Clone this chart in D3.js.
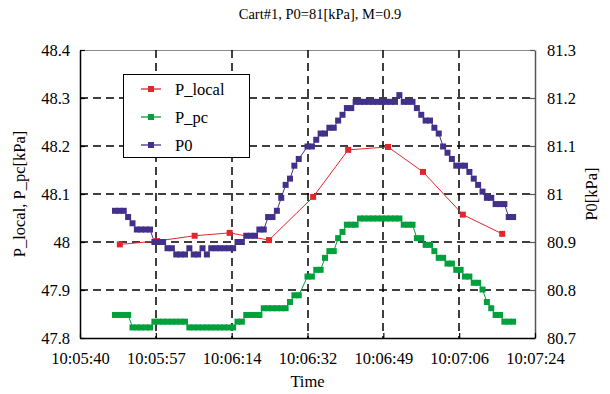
<!DOCTYPE html>
<html>
<head>
<meta charset="utf-8">
<script src="https://cdn.jsdelivr.net/npm/d3@7"></script>
<style>
  html, body { margin: 0; padding: 0; background: #fff; }
  svg { display: block; }
  text { font-family: "Liberation Serif", "Times New Roman", serif; fill: #000; }
</style>
</head>
<body>
<svg id="chart" width="610" height="394"></svg>
<script>
// Seconds elapsed since 10:05:40 for each pressure sample
const sampleSec = [
  8, 9, 10, 11, 12, 13, 14, 15, 16, 17, 18, 19, 20, 21, 22, 23, 24, 25, 26, 27,
  28, 29, 30, 31, 32, 33, 34, 35, 36, 37, 38, 39, 40, 41, 42, 43, 44, 45, 46, 47,
  48, 49, 50,
  52, 53, 54, 55, 56, 57, 58, 59, 60, 61, 62, 63, 64, 65, 66, 67, 68, 69, 70, 71,
  72, 73, 74, 75, 76, 77, 78, 79, 80, 81, 82, 83, 84, 85, 86, 87, 88, 89, 90, 91,
  92, 93, 94, 95, 96, 97, 98, 99
];

// Total pressure P0 [kPa] (right axis)
const p0Val = [
  80.965, 80.965, 80.965, 80.952, 80.939, 80.926, 80.926, 80.926, 80.926, 80.900,
  80.900, 80.900, 80.887, 80.887, 80.874, 80.874, 80.874, 80.887, 80.874, 80.874,
  80.887, 80.874, 80.887, 80.887, 80.887, 80.887, 80.887, 80.887, 80.900, 80.900,
  80.913, 80.913, 80.913, 80.926, 80.926, 80.952, 80.952, 80.965, 80.992, 81.019,
  81.032, 81.059, 81.073,
  81.099, 81.099, 81.113, 81.126, 81.126, 81.138, 81.138, 81.153, 81.165, 81.179,
  81.179, 81.192, 81.192, 81.192, 81.192, 81.192, 81.192, 81.192, 81.192, 81.192,
  81.192, 81.206, 81.192, 81.192, 81.192, 81.179, 81.165, 81.153, 81.153, 81.138,
  81.126, 81.099, 81.086, 81.073, 81.059, 81.059, 81.059, 81.046, 81.032, 81.019,
  81.005, 80.992, 80.992, 80.979, 80.979, 80.979, 80.952, 80.952
];

// P_pc [kPa] (left axis)
const pPcVal = [
  47.848, 47.848, 47.848, 47.848, 47.822, 47.822, 47.822, 47.822, 47.822, 47.834,
  47.834, 47.834, 47.834, 47.834, 47.834, 47.834, 47.834, 47.822, 47.822, 47.822,
  47.822, 47.822, 47.822, 47.822, 47.822, 47.822, 47.822, 47.822, 47.834, 47.834,
  47.848, 47.848, 47.848, 47.848, 47.862, 47.862, 47.862, 47.862, 47.862, 47.862,
  47.875, 47.889, 47.889,
  47.928, 47.928, 47.942, 47.942, 47.967, 47.981, 47.981, 48.008, 48.021, 48.036,
  48.036, 48.036, 48.049, 48.049, 48.049, 48.049, 48.049, 48.049, 48.049, 48.049,
  48.049, 48.049, 48.036, 48.036, 48.036, 48.008, 48.008, 47.994, 47.994, 47.981,
  47.967, 47.967, 47.955, 47.955, 47.942, 47.942, 47.928, 47.928, 47.915, 47.915,
  47.901, 47.875, 47.862, 47.848, 47.848, 47.834, 47.834, 47.834
];

// P_local [kPa] (left axis), sampled less often
const localSec = [9.1, 17.6, 26.2, 34.2, 43.2, 53.3, 61.3, 70.4, 78.4, 87.5, 96.5];
const localVal = [47.995, 48.002, 48.013, 48.019, 48.004, 48.094, 48.192, 48.198, 48.146, 48.057, 48.017];

// Axis ticks and labels
const timeTickSec = [0, 104 / 6, 208 / 6, 52, 416 / 6, 520 / 6, 104];
const timeTickLabels = ["10:05:40", "10:05:57", "10:06:14", "10:06:32", "10:06:49", "10:07:06", "10:07:24"];
const leftTicks = [48.4, 48.3, 48.2, 48.1, 48.0, 47.9, 47.8];
const leftTickLabels = ["48.4", "48.3", "48.2", "48.1", "48", "47.9", "47.8"];
const rightTicks = [81.3, 81.2, 81.1, 81.0, 80.9, 80.8, 80.7];
const rightTickLabels = ["81.3", "81.2", "81.1", "81", "80.9", "80.8", "80.7"];

const seriesNames = ["P_local", "P_pc", "P0"];
const seriesColors = ["#e3262e", "#00a03c", "#43308b"];

const svg = d3.select("#chart");
const plot = { left: 80, right: 535, top: 50, bottom: 338 };
const fontSize = "16.5px";

const x = d3.scaleLinear().domain([0, 104]).range([plot.left, plot.right]);
const yL = d3.scaleLinear().domain([47.8, 48.4]).range([plot.bottom, plot.top]);
const yR = d3.scaleLinear().domain([80.7, 81.3]).range([plot.bottom, plot.top]);

// Title
svg.append("text")
  .attr("x", 320).attr("y", 19)
  .attr("text-anchor", "middle")
  .style("font-size", "14.5px")
  .text("Cart#1, P0=81[kPa], M=0.9");

// Plot frame: top edge
svg.append("line")
  .attr("x1", plot.left).attr("x2", plot.right)
  .attr("y1", plot.top + 0.5).attr("y2", plot.top + 0.5)
  .attr("stroke", "#8a8a8a").attr("stroke-width", 1);

// Dashed grid
const grid = svg.append("g").attr("stroke", "#000").attr("stroke-width", 1.5)
  .attr("stroke-dasharray", "8,5");
grid.selectAll("line.v").data(timeTickSec.slice(1, -1)).join("line")
  .attr("class", "v")
  .attr("x1", d => Math.round(x(d))).attr("x2", d => Math.round(x(d)))
  .attr("y1", plot.top).attr("y2", plot.bottom);
grid.selectAll("line.h").data(leftTicks.slice(1, -1)).join("line")
  .attr("class", "h")
  .attr("x1", plot.left).attr("x2", plot.right)
  .attr("y1", d => Math.round(yL(d))).attr("y2", d => Math.round(yL(d)));

// Axes with inward ticks
function styleAxis(g, color) {
  g.selectAll("path").attr("stroke", color).attr("stroke-width", 1.5);
  g.selectAll("line").attr("stroke", color).attr("stroke-width", 1.2);
  g.selectAll("text").attr("fill", "#000")
    .style("font-family", "'Liberation Serif', 'Times New Roman', serif")
    .style("font-size", fontSize);
}

const leftAxis = d3.axisLeft(yL).tickValues(leftTicks)
  .tickFormat((d, i) => leftTickLabels[i]).tickSize(-5).tickSizeOuter(0).tickPadding(10);
svg.append("g").attr("transform", `translate(${plot.left},0)`).call(leftAxis).call(g => styleAxis(g, "#000"));

const rightAxis = d3.axisRight(yR).tickValues(rightTicks)
  .tickFormat((d, i) => rightTickLabels[i]).tickSize(-5).tickSizeOuter(0).tickPadding(12);
svg.append("g").attr("transform", `translate(${plot.right},0)`).call(rightAxis).call(g => styleAxis(g, "#555"));

const bottomAxis = d3.axisBottom(x).tickValues(timeTickSec)
  .tickFormat((d, i) => timeTickLabels[i]).tickSize(-5).tickSizeOuter(0).tickPadding(14);
svg.append("g").attr("transform", `translate(0,${plot.bottom})`).call(bottomAxis).call(g => styleAxis(g, "#000"));

// Axis titles
svg.append("text")
  .attr("transform", `translate(25,${(plot.top + plot.bottom) / 2}) rotate(-90)`)
  .attr("text-anchor", "middle").style("font-size", fontSize)
  .text("P_local, P_pc[kPa]");
svg.append("text")
  .attr("transform", `translate(597,${(plot.top + plot.bottom) / 2}) rotate(-90)`)
  .attr("text-anchor", "middle").style("font-size", fontSize)
  .text("P0[kPa]");
svg.append("text")
  .attr("x", (plot.left + plot.right) / 2).attr("y", 387)
  .attr("text-anchor", "middle").style("font-size", fontSize)
  .text("Time");

// Series
const series = [
  { pts: localSec.map((s, i) => [x(s), yL(localVal[i])]), color: seriesColors[0] },
  { pts: sampleSec.map((s, i) => [x(s), yL(pPcVal[i])]), color: seriesColors[1] },
  { pts: sampleSec.map((s, i) => [x(s), yR(p0Val[i])]), color: seriesColors[2] }
];
const line = d3.line();
const mk = 6;
series.forEach(s => {
  const g = svg.append("g");
  g.append("path").attr("d", line(s.pts)).attr("fill", "none")
    .attr("stroke", s.color).attr("stroke-width", 1);
  g.selectAll("rect").data(s.pts).join("rect")
    .attr("x", d => d[0] - mk / 2).attr("y", d => d[1] - mk / 2)
    .attr("width", mk).attr("height", mk).attr("fill", s.color);
});

// Legend
const legend = svg.append("g");
legend.append("rect").attr("x", 123.5).attr("y", 74.5).attr("width", 126).attr("height", 83)
  .attr("fill", "#fff").attr("stroke", "#000").attr("stroke-width", 1);
seriesNames.forEach((name, i) => {
  const cy = 89 + i * 28;
  legend.append("line").attr("x1", 141).attr("x2", 161).attr("y1", cy).attr("y2", cy)
    .attr("stroke", seriesColors[i]).attr("stroke-width", 1.3);
  legend.append("rect").attr("x", 151 - mk / 2).attr("y", cy - mk / 2)
    .attr("width", mk).attr("height", mk).attr("fill", seriesColors[i]);
  legend.append("text").attr("x", 175).attr("y", cy + 5.5)
    .style("font-size", fontSize).text(name);
});
</script>
</body>
</html>
